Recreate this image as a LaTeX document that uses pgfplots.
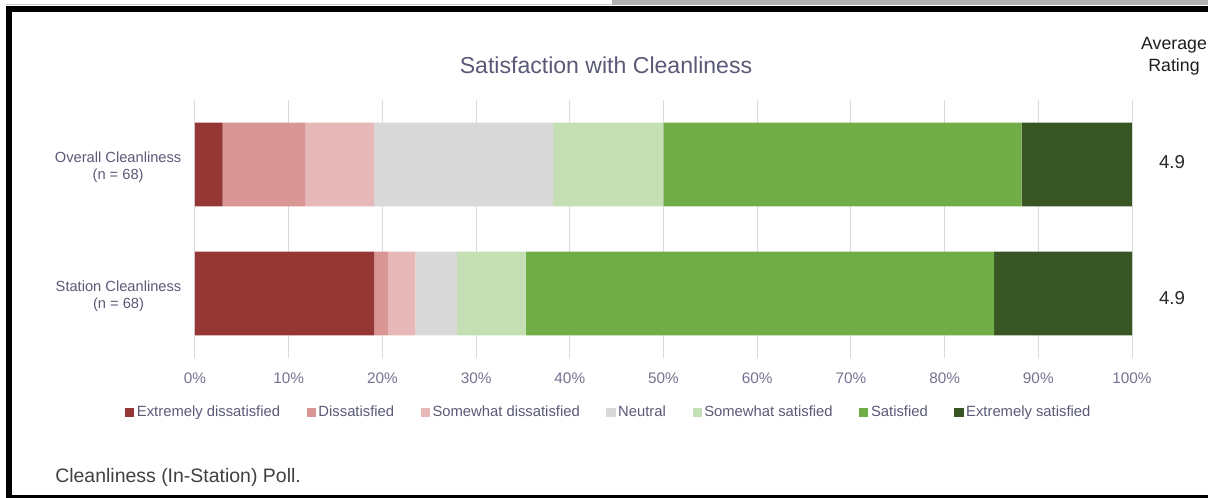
\documentclass[border=0pt]{standalone}
\usepackage{pgfplots}
\pgfplotsset{compat=1.18}
\usepackage{fontspec}
\setmainfont{Liberation Sans}
\definecolor{cED}{HTML}{953735}
\definecolor{cD}{HTML}{DA9694}
\definecolor{cSD}{HTML}{E6B8B7}
\definecolor{cN}{HTML}{D9D9D9}
\definecolor{cSS}{HTML}{C4DFB3}
\definecolor{cS}{HTML}{70AD47}
\definecolor{cES}{HTML}{375623}
\definecolor{txt}{RGB}{90,90,120}
\definecolor{tickc}{RGB}{115,115,145}
\definecolor{gridc}{RGB}{217,217,224}
\def\px{0.75pt}
\begin{document}
\begin{tikzpicture}
\path[use as bounding box] (0,0) rectangle (1208*\px,-498*\px);
\fill[gray!60] (612*\px,0) rectangle (1208*\px,-5*\px);
\draw[gray!40, line width=1*\px] (6*\px,-5*\px) -- (612*\px,-5*\px);
\fill[black] (6*\px,-6*\px) rectangle (1208*\px,-12.5*\px);
\fill[black] (6*\px,-6*\px) rectangle (12*\px,-498*\px);
\fill[black] (6*\px,-495.5*\px) rectangle (1208*\px,-498*\px);

\begin{axis}[
  at={(195*\px,-358*\px)}, anchor=south west,
  scale only axis, width=937*\px, height=258*\px,
  xbar stacked, bar width=0.65,
  xmin=0, xmax=100, ymin=-0.5, ymax=1.5,
  ytick={0,1},
  yticklabels={{Station Cleanliness\\(n = 68)},{Overall Cleanliness\\(n = 68)}},
  yticklabel style={align=center, font=\fontsize{11}{12.75}\selectfont, text=txt, xshift=-9*\px, yshift=-3*\px},
  xtick={0,10,...,100},
  xticklabels={0\%,10\%,20\%,30\%,40\%,50\%,60\%,70\%,80\%,90\%,100\%},
  xticklabel style={font=\fontsize{11.5}{13}\selectfont, text=tickc, yshift=-10*\px},
  xmajorgrids, major grid style={gridc, line width=1*\px},
  axis line style={draw=none}, major tick length=0pt,
  legend columns=-1,
  legend style={draw=none, at={(0.442,-0.21)}, anchor=center,
    font=\fontsize{11.1}{13}\selectfont, text=txt,
    /tikz/every even column/.append style={column sep=18pt}},
  legend image code/.code={\fill[#1] (0pt,-3.4pt) rectangle (6.8pt,3.4pt);},
]
\addplot[fill=cED, draw=none] coordinates {(19.12,0) (2.94,1)};
\addplot[fill=cD, draw=none] coordinates {(1.47,0) (8.82,1)};
\addplot[fill=cSD, draw=none] coordinates {(2.94,0) (7.35,1)};
\addplot[fill=cN, draw=none] coordinates {(4.41,0) (19.12,1)};
\addplot[fill=cSS, draw=none] coordinates {(7.35,0) (11.76,1)};
\addplot[fill=cS, draw=none] coordinates {(50.00,0) (38.24,1)};
\addplot[fill=cES, draw=none] coordinates {(14.71,0) (11.76,1)};
\legend{Extremely dissatisfied, Dissatisfied, Somewhat dissatisfied, Neutral, Somewhat satisfied, Satisfied, Extremely satisfied}
\end{axis}

\node[text=txt, font=\fontsize{17.3}{20}\selectfont] at (606*\px,-65*\px) {Satisfaction with Cleanliness};
\node[align=center, text={rgb,255:red,30;green,30;blue,30}, font=\fontsize{13.3}{16.5}\selectfont] at (1174*\px,-56*\px) {Average\\Rating};
\node[text={rgb,255:red,40;green,40;blue,40}, font=\fontsize{14}{16}\selectfont] at (1172*\px,-162*\px) {4.9};
\node[text={rgb,255:red,40;green,40;blue,40}, font=\fontsize{14}{16}\selectfont] at (1172*\px,-298*\px) {4.9};
\node[anchor=west, inner sep=0pt, text={rgb,255:red,64;green,64;blue,64}, font=\fontsize{14.6}{17}\selectfont] at (55*\px,-477*\px) {Cleanliness (In-Station) Poll.};
\end{tikzpicture}
\end{document}
